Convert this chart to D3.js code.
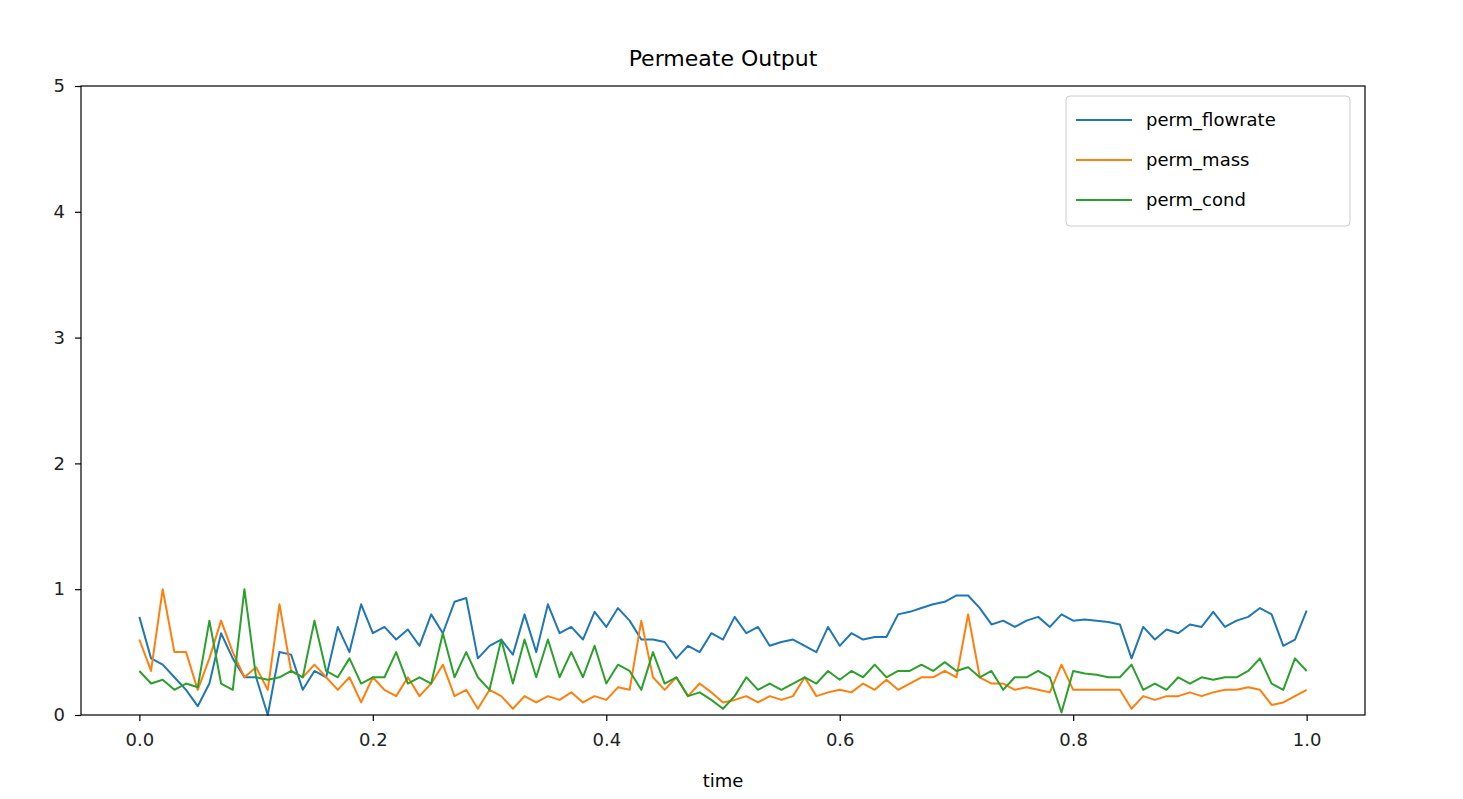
<!DOCTYPE html>
<html>
<head>
<meta charset="utf-8">
<style>
body { margin: 0; background: white; }
text { font-family: "DejaVu Sans", sans-serif; }
</style>
<script src="https://d3js.org/d3.v7.min.js"></script>
</head>
<body>
<div id="chart"></div>
<script>
var time = [0.00,0.01,0.02,0.03,0.04,0.05,0.06,0.07,0.08,0.09,0.10,0.11,0.12,0.13,0.14,0.15,0.16,0.17,0.18,0.19,
            0.20,0.21,0.22,0.23,0.24,0.25,0.26,0.27,0.28,0.29,0.30,0.31,0.32,0.33,0.34,0.35,0.36,0.37,0.38,0.39,
            0.40,0.41,0.42,0.43,0.44,0.45,0.46,0.47,0.48,0.49,0.50,0.51,0.52,0.53,0.54,0.55,0.56,0.57,0.58,0.59,
            0.60,0.61,0.62,0.63,0.64,0.65,0.66,0.67,0.68,0.69,0.70,0.71,0.72,0.73,0.74,0.75,0.76,0.77,0.78,0.79,
            0.80,0.81,0.82,0.83,0.84,0.85,0.86,0.87,0.88,0.89,0.90,0.91,0.92,0.93,0.94,0.95,0.96,0.97,0.98,0.99,1.00];
var permFlowrate = [0.78,0.45,0.4,0.3,0.2,0.07,0.25,0.65,0.45,0.3,0.3,0.0,0.5,0.48,0.2,0.35,0.3,0.7,0.5,0.88,
            0.65,0.7,0.6,0.68,0.55,0.8,0.65,0.9,0.93,0.45,0.55,0.6,0.48,0.8,0.5,0.88,0.65,0.7,0.6,0.82,
            0.7,0.85,0.75,0.6,0.6,0.58,0.45,0.55,0.5,0.65,0.6,0.78,0.65,0.7,0.55,0.58,0.6,0.55,0.5,0.7,
            0.55,0.65,0.6,0.62,0.62,0.8,0.82,0.85,0.88,0.9,0.95,0.95,0.85,0.72,0.75,0.7,0.75,0.78,0.7,0.8,
            0.75,0.76,0.75,0.74,0.72,0.45,0.7,0.6,0.68,0.65,0.72,0.7,0.82,0.7,0.75,0.78,0.85,0.8,0.55,0.6,0.83];
var permMass = [0.6,0.35,1.0,0.5,0.5,0.2,0.45,0.75,0.5,0.3,0.38,0.2,0.88,0.35,0.3,0.4,0.3,0.2,0.3,0.1,
            0.3,0.2,0.15,0.3,0.15,0.25,0.4,0.15,0.2,0.05,0.2,0.15,0.05,0.15,0.1,0.15,0.12,0.18,0.1,0.15,
            0.12,0.22,0.2,0.75,0.3,0.2,0.3,0.15,0.25,0.18,0.1,0.12,0.15,0.1,0.15,0.12,0.15,0.3,0.15,0.18,
            0.2,0.18,0.25,0.2,0.28,0.2,0.25,0.3,0.3,0.35,0.3,0.8,0.3,0.25,0.25,0.2,0.22,0.2,0.18,0.4,
            0.2,0.2,0.2,0.2,0.2,0.05,0.15,0.12,0.15,0.15,0.18,0.15,0.18,0.2,0.2,0.22,0.2,0.08,0.1,0.15,0.2];
var permCond = [0.35,0.25,0.28,0.2,0.25,0.22,0.75,0.25,0.2,1.0,0.3,0.28,0.3,0.35,0.3,0.75,0.35,0.3,0.45,0.25,
            0.3,0.3,0.5,0.25,0.3,0.25,0.65,0.3,0.5,0.3,0.2,0.6,0.25,0.6,0.3,0.6,0.3,0.5,0.3,0.55,
            0.25,0.4,0.35,0.2,0.5,0.25,0.3,0.15,0.18,0.12,0.05,0.15,0.3,0.2,0.25,0.2,0.25,0.3,0.25,0.35,
            0.28,0.35,0.3,0.4,0.3,0.35,0.35,0.4,0.35,0.42,0.35,0.38,0.3,0.35,0.2,0.3,0.3,0.35,0.3,0.02,
            0.35,0.33,0.32,0.3,0.3,0.4,0.2,0.25,0.2,0.3,0.25,0.3,0.28,0.3,0.3,0.35,0.45,0.25,0.2,0.45,0.35];
var seriesNames = ["perm_flowrate", "perm_mass", "perm_cond"];
var seriesColors = ["#1f77b4", "#ff7f0e", "#2ca02c"];
var seriesValues = [permFlowrate, permMass, permCond];
var xTicks = [0.0, 0.2, 0.4, 0.6, 0.8, 1.0];
var yTicks = [0, 1, 2, 3, 4, 5];

var W = 1463, H = 799;
var margin = {top: 86, right: 98, bottom: 84, left: 81};
var svg = d3.select("#chart").append("svg").attr("width", W).attr("height", H);
var x = d3.scaleLinear().domain([-0.05, 1.05]).range([margin.left, W - margin.right]);
var y = d3.scaleLinear().domain([0, 5]).range([H - margin.bottom, margin.top]);

var line = d3.line().x(function(d) { return x(d[0]); }).y(function(d) { return y(d[1]); });
seriesValues.forEach(function(vals, i) {
    svg.append("path")
        .datum(time.map(function(t, j) { return [t, vals[j]]; }))
        .attr("d", line).attr("fill", "none")
        .attr("stroke", seriesColors[i]).attr("stroke-width", 2)
        .attr("stroke-linejoin", "round");
});

svg.append("rect").attr("x", margin.left).attr("y", margin.top)
    .attr("width", W - margin.left - margin.right).attr("height", H - margin.top - margin.bottom)
    .attr("fill", "none").attr("stroke", "black").attr("stroke-width", 1.2);

var xAxis = svg.append("g").attr("transform", "translate(0," + (H - margin.bottom) + ")")
    .call(d3.axisBottom(x).tickValues(xTicks).tickFormat(d3.format(".1f")).tickSizeOuter(0).tickSize(6).tickPadding(12));
var yAxis = svg.append("g").attr("transform", "translate(" + margin.left + ",0)")
    .call(d3.axisLeft(y).tickValues(yTicks).tickFormat(d3.format("d")).tickSizeOuter(0).tickSize(6).tickPadding(10));
[xAxis, yAxis].forEach(function(a) {
    a.select(".domain").remove();
    a.selectAll("text").attr("font-size", 18).attr("font-family", "DejaVu Sans, sans-serif").attr("fill", "#222");
    a.selectAll("line").attr("stroke", "black").attr("stroke-width", 1.2);
});

svg.append("text").attr("x", (margin.left + W - margin.right) / 2).attr("y", 66)
    .attr("text-anchor", "middle").attr("font-size", 22).text("Permeate Output");
svg.append("text").attr("x", x(0.5)).attr("y", 787)
    .attr("text-anchor", "middle").attr("font-size", 18).text("time");

var lg = svg.append("g");
lg.append("rect").attr("x", 1066).attr("y", 96).attr("width", 284).attr("height", 130)
    .attr("rx", 4).attr("fill", "white").attr("stroke", "#ccc");
seriesNames.forEach(function(n, i) {
    var yy = 120 + i * 40;
    lg.append("line").attr("x1", 1076).attr("x2", 1132).attr("y1", yy).attr("y2", yy)
        .attr("stroke", seriesColors[i]).attr("stroke-width", 2);
    lg.append("text").attr("x", 1146).attr("y", yy + 6).attr("font-size", 18).text(n);
});
</script>
</body>
</html>
